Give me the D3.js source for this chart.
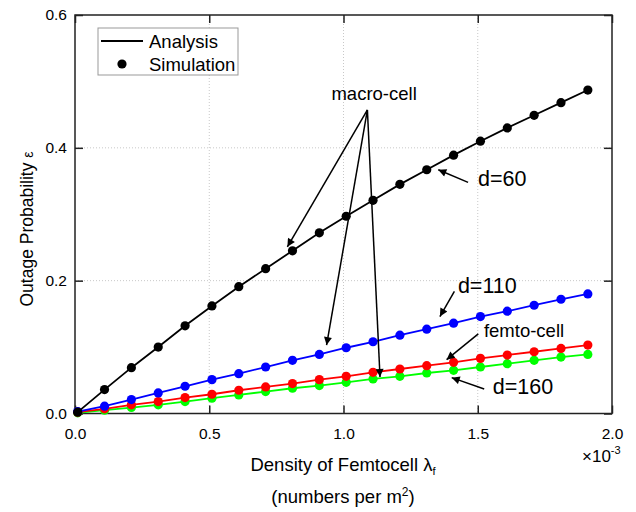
<!DOCTYPE html>
<html>
<head>
  <meta charset="UTF-8">
  <title>Outage probability vs femtocell density</title>
  <script src="https://d3js.org/d3.v7.min.js"></script>
  <style>
    body { margin: 0; background: #fff; }
    text { font-family: "Liberation Sans", Arial, sans-serif; fill: #000; }
  </style>
</head>
<body>
  <svg id="chart" width="636" height="512"></svg>

  <script>
    // density (x 1e-3 per m^2)
    const density = [0.01, 0.11, 0.21, 0.31, 0.41, 0.51, 0.61, 0.71, 0.81, 0.91,
                     1.01, 1.11, 1.21, 1.31, 1.41, 1.51, 1.61, 1.71, 1.81, 1.91];

    const macroD60  = [0.002, 0.036, 0.069, 0.100, 0.132, 0.162, 0.191, 0.218, 0.245, 0.272,
                       0.297, 0.321, 0.345, 0.367, 0.389, 0.410, 0.430, 0.449, 0.468, 0.487];
    const macroD110 = [0.003, 0.011, 0.021, 0.031, 0.041, 0.051, 0.060, 0.070, 0.080, 0.089,
                       0.099, 0.108, 0.118, 0.127, 0.136, 0.146, 0.154, 0.163, 0.172, 0.180];
    const femto     = [0.002, 0.007, 0.013, 0.018, 0.024, 0.029, 0.035, 0.040, 0.045, 0.051,
                       0.056, 0.062, 0.067, 0.072, 0.077, 0.083, 0.088, 0.093, 0.098, 0.103];
    const macroD160 = [0.001, 0.005, 0.009, 0.013, 0.018, 0.023, 0.028, 0.033, 0.038, 0.042,
                       0.047, 0.052, 0.056, 0.061, 0.065, 0.070, 0.075, 0.080, 0.085, 0.089];

    const seriesNames  = ["d=60", "d=110", "femto-cell", "d=160"];
    const seriesColors = ["#000000", "#0000ff", "#ff0000", "#00ff00"];
    // drawn back to front so red sits on green as in the figure
    const drawOrder = [3, 2, 1, 0];

    const xTicks = [0, 0.5, 1.0, 1.5, 2.0];
    const yTicks = [0, 0.2, 0.4, 0.6];

    const svg = d3.select("#chart");
    const margin = { top: 15, right: 24, bottom: 98.5, left: 75 };
    const W = 636, H = 512;

    const x = d3.scaleLinear().domain([0, 2]).range([margin.left, W - margin.right]);
    const y = d3.scaleLinear().domain([0, 0.6]).range([H - margin.bottom, margin.top]);

    const allSeries = [macroD60, macroD110, femto, macroD160];

    // grid
    const grid = svg.append("g").attr("stroke", "#c8c8c8").attr("stroke-width", 1)
                    .attr("stroke-dasharray", "1,2");
    xTicks.slice(1, -1).forEach(t => {
      grid.append("line").attr("x1", x(t)).attr("x2", x(t))
          .attr("y1", y(0.6)).attr("y2", y(0));
    });
    yTicks.slice(1, -1).forEach(t => {
      grid.append("line").attr("x1", x(0)).attr("x2", x(2))
          .attr("y1", y(t)).attr("y2", y(t));
    });

    // axes (inward ticks)
    const fmt = d3.format(".1f");
    svg.append("g").attr("transform", "translate(0," + y(0) + ")")
      .call(d3.axisBottom(x).tickValues(xTicks).tickSize(-8).tickPadding(14).tickFormat(fmt));
    svg.append("g").attr("transform", "translate(" + x(0) + ",0)")
      .call(d3.axisLeft(y).tickValues(yTicks).tickSize(-8).tickPadding(8).tickFormat(fmt));
    svg.append("g").attr("transform", "translate(0," + y(0.6) + ")")
      .call(d3.axisTop(x).tickValues(xTicks).tickSize(-8).tickFormat(""));
    svg.append("g").attr("transform", "translate(" + x(2) + ",0)")
      .call(d3.axisRight(y).tickValues(yTicks).tickSize(-8).tickFormat(""));

    svg.selectAll(".domain").remove();
    svg.selectAll(".tick line").attr("stroke", "#222").attr("stroke-width", 1.5);
    svg.selectAll(".tick text").style("font-size", "15.5px")
       .style("font-family", "'Liberation Sans', Arial, sans-serif").attr("fill", "#000");

    // frame
    svg.append("rect")
      .attr("x", x(0)).attr("y", y(0.6))
      .attr("width", x(2) - x(0)).attr("height", y(0) - y(0.6))
      .attr("fill", "none").attr("stroke", "#222").attr("stroke-width", 1.5);

    // series
    const line = d3.line().x((d, i) => x(density[i])).y(d => y(d));
    const plot = svg.append("g");
    drawOrder.forEach(k => {
      plot.append("path").datum(allSeries[k])
        .attr("fill", "none").attr("stroke", seriesColors[k]).attr("stroke-width", 1.8)
        .attr("d", line);
      plot.append("g").selectAll("circle").data(allSeries[k]).join("circle")
        .attr("cx", (d, i) => x(density[i])).attr("cy", d => y(d))
        .attr("r", 4.6).attr("fill", seriesColors[k]);
    });

    // arrowhead
    svg.append("defs").append("marker")
      .attr("id", "arrow").attr("viewBox", "0 0 10 10")
      .attr("refX", 10).attr("refY", 5)
      .attr("markerWidth", 11).attr("markerHeight", 8)
      .attr("markerUnits", "userSpaceOnUse")
      .attr("orient", "auto")
      .append("path").attr("d", "M0,0 L10,5 L0,10 Z").attr("fill", "#000");

    // annotations, in data units
    const macroLabel = { text: "macro-cell", x: 1.114, y: 0.472 };
    const macroFrom  = [1.089, 0.457];
    const macroTargets = [[0.791, 0.251], [0.937, 0.103], [1.136, 0.055]];

    const labels = [
      { text: "d=60",       x: 1.501, y: 0.342, size: 21.5, from: [1.464, 0.348], to: [1.353, 0.367] },
      { text: "d=110",      x: 1.426, y: 0.182, size: 21.5, from: [1.413, 0.184], to: [1.359, 0.146] },
      { text: "femto-cell", x: 1.523, y: 0.115, size: 18.5, from: [1.502, 0.120], to: [1.384, 0.081] },
      { text: "d=160",      x: 1.556, y: 0.029, size: 21.5, from: [1.524, 0.037], to: [1.403, 0.054] }
    ];

    const ann = svg.append("g");
    ann.append("text").attr("x", x(macroLabel.x)).attr("y", y(macroLabel.y))
      .attr("text-anchor", "middle").style("font-size", "18.5px").text(macroLabel.text);
    macroTargets.forEach(t => {
      ann.append("line")
        .attr("x1", x(macroFrom[0])).attr("y1", y(macroFrom[1]))
        .attr("x2", x(t[0])).attr("y2", y(t[1]))
        .attr("stroke", "#000").attr("stroke-width", 1.5)
        .attr("marker-end", "url(#arrow)");
    });
    labels.forEach(l => {
      ann.append("text").attr("x", x(l.x)).attr("y", y(l.y))
        .style("font-size", l.size + "px").text(l.text);
      ann.append("line")
        .attr("x1", x(l.from[0])).attr("y1", y(l.from[1]))
        .attr("x2", x(l.to[0])).attr("y2", y(l.to[1]))
        .attr("stroke", "#000").attr("stroke-width", 1.5)
        .attr("marker-end", "url(#arrow)");
    });

    // legend
    const lg = svg.append("g").attr("transform", "translate(98,28)");
    lg.append("rect").attr("width", 140).attr("height", 47)
      .attr("fill", "#fff").attr("stroke", "#999").attr("stroke-width", 1);
    lg.append("line").attr("x1", 3).attr("x2", 45).attr("y1", 13).attr("y2", 13)
      .attr("stroke", "#000").attr("stroke-width", 1.8);
    lg.append("text").attr("x", 51).attr("y", 20).style("font-size", "18.5px").text("Analysis");
    lg.append("circle").attr("cx", 24).attr("cy", 36).attr("r", 4.6).attr("fill", "#000");
    lg.append("text").attr("x", 51).attr("y", 43).style("font-size", "18.5px").text("Simulation");

    // axis titles
    const xt = svg.append("text").attr("x", 343).attr("y", 471)
      .attr("text-anchor", "middle").style("font-size", "18.5px");
    xt.append("tspan").text("Density of Femtocell \u03bb");
    xt.append("tspan").attr("dy", 4).style("font-size", "11px").text("f");

    const xt2 = svg.append("text").attr("x", 343).attr("y", 503)
      .attr("text-anchor", "middle").style("font-size", "18.5px");
    xt2.append("tspan").text("(numbers per m");
    xt2.append("tspan").attr("dy", -7).style("font-size", "12px").text("2");
    xt2.append("tspan").attr("dy", 7).text(")");

    const ex = svg.append("text").attr("x", 582).attr("y", 462).style("font-size", "17px");
    ex.append("tspan").text("\u00d710");
    ex.append("tspan").attr("dy", -8).style("font-size", "11px").text("-3");

    const yt = svg.append("text")
      .attr("transform", "translate(33,229) rotate(-90)")
      .attr("text-anchor", "middle").style("font-size", "17.5px");
    yt.append("tspan").text("Outage Probability ");
    yt.append("tspan").style("font-size", "14px").text("\u03b5");
  </script>
</body>
</html>
